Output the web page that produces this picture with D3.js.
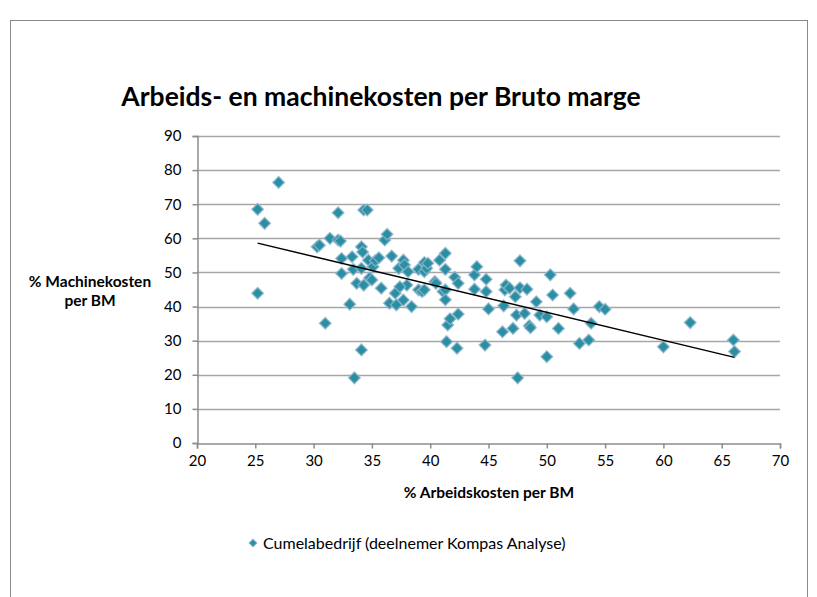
<!DOCTYPE html>
<html>
<head>
	<meta charset="utf-8" />
	<title>Arbeids- en machinekosten per Bruto marge</title>
	<script src="https://cdn.jsdelivr.net/npm/d3@7"></script>
	<style>
		body { margin: 0; background: #fff; }
		text { font-family: Lato, "Open Sans", sans-serif; fill: #000; }
	</style>
</head>
<body>

<script>
// % Arbeidskosten per BM
var arbeid = [
	25.2, 25.8, 27.0, 25.2,
	30.3, 30.5, 31.0, 31.4, 32.1, 32.3, 32.1, 32.4, 32.4, 33.1, 33.3, 33.4, 33.5, 33.7,
	34.1, 34.2, 34.1, 34.1, 34.3, 34.3, 34.6, 34.7, 34.8, 35.0, 35.1, 35.3, 35.6,
	35.8, 36.1, 36.3, 36.5, 36.7, 37.0, 37.1,
	37.3, 37.7, 37.7, 37.8, 38.0, 38.1, 38.4, 39.0, 39.0, 39.3, 39.5, 39.5, 39.5, 39.7, 39.8, 40.4, 40.5, 37.4,
	40.8, 41.1, 41.3, 41.3, 41.3, 41.3, 41.4, 41.5, 41.7, 42.1, 42.3, 42.4, 42.4, 43.8, 43.8, 44.0,
	44.7, 44.8, 44.8, 45.0, 46.2, 46.3, 46.4, 46.5, 46.8, 47.1, 47.3, 47.4, 47.5, 47.7, 47.7, 48.1, 48.3, 48.5, 48.6,
	49.1, 49.4, 50.0, 50.0, 50.3, 50.5, 51.0, 52.0, 52.3, 52.8, 53.6, 53.8, 54.5, 55.0,
	60.0, 62.3, 66.0, 66.1
];
// % Machinekosten per BM
var machine = [
	68.5, 64.4, 76.4, 43.9,
	57.5, 58.0, 35.1, 60.0, 59.5, 59.2, 67.5, 54.1, 49.7, 40.7, 54.6, 50.9, 19.1, 46.8,
	57.5, 56.0, 51.2, 27.3, 46.3, 68.3, 68.3, 53.6, 48.4, 47.8, 51.7, 53.5, 54.3,
	45.4, 59.5, 61.2, 41.0, 54.8, 43.9, 40.5,
	51.2, 53.6, 41.9, 52.2, 46.3, 50.2, 40.0, 50.9, 44.9, 44.4, 52.9, 50.2, 44.9, 51.2, 52.7, 47.3, 46.8, 45.8,
	53.6, 44.4, 55.6, 50.9, 44.9, 42.0, 29.7, 34.6, 36.4, 48.6, 27.8, 46.8, 37.8, 49.3, 45.1, 51.7,
	28.7, 48.0, 44.4, 39.3, 32.6, 40.2, 44.9, 46.3, 45.4, 33.6, 42.9, 37.5, 19.1, 45.5, 53.4, 38.0, 45.1, 34.4, 33.8,
	41.4, 37.5, 37.0, 25.3, 49.3, 43.4, 33.6, 43.9, 39.3, 29.2, 30.2, 35.1, 40.0, 39.2,
	28.2, 35.3, 30.2, 26.8
];
// lineaire trendlijn (begin- en eindpunt)
var trendX = [25.2, 66.1];
var trendY = [58.6, 25.1];

var xTicks = [20, 25, 30, 35, 40, 45, 50, 55, 60, 65, 70];
var yTicks = [0, 10, 20, 30, 40, 50, 60, 70, 80, 90];

var title = "Arbeids- en machinekosten per Bruto marge";
var xTitle = "% Arbeidskosten per BM";
var yTitle = ["% Machinekosten", "per BM"];
var legendLabel = "Cumelabedrijf (deelnemer Kompas Analyse)";

var width = 817, height = 597;
var plotL = 197, plotR = 780, plotT = 136, plotB = 443;

var svg = d3.select("body").append("svg")
	.attr("width", width)
	.attr("height", height);

// kader
svg.append("rect")
	.attr("x", 10.5).attr("y", 20.5)
	.attr("width", 797).attr("height", 600)
	.attr("fill", "none")
	.attr("stroke", "#898989")
	.attr("stroke-width", 1);

var x = d3.scaleLinear().domain([20, 70]).range([plotL, plotR]);
var y = d3.scaleLinear().domain([0, 90]).range([plotB, plotT]);

// rasterlijnen
svg.append("g")
	.selectAll("line")
	.data(yTicks.slice(1))
	.enter()
	.append("line")
	.attr("x1", plotL).attr("x2", plotR)
	.attr("y1", function(d){ return Math.round(y(d)) + 0.5; })
	.attr("y2", function(d){ return Math.round(y(d)) + 0.5; })
	.attr("stroke", "#a6a6a6")
	.attr("stroke-width", 1.5);

var xAxis = svg.append("g")
	.attr("transform", "translate(0," + (plotB + 0.5) + ")")
	.call(d3.axisBottom(x).tickValues(xTicks).tickSize(5).tickPadding(7).tickFormat(d3.format("d")));

var yAxis = svg.append("g")
	.attr("transform", "translate(" + (plotL + 0.5) + ",0)")
	.call(d3.axisLeft(y).tickValues(yTicks).tickSize(5).tickPadding(11).tickFormat(d3.format("d")));

[xAxis, yAxis].forEach(function(a){
	a.select(".domain").attr("stroke", "#8c8c8c").attr("stroke-width", 1.5);
	a.selectAll(".tick line").attr("stroke", "#8c8c8c").attr("stroke-width", 1.5);
	a.selectAll("text")
		.style("font-family", "Lato, 'Open Sans', sans-serif")
		.style("font-size", "15px")
		.attr("fill", "#000");
});
xAxis.selectAll("text").attr("dy", "0.71em");

// punten
var points = arbeid.map(function(v, i){ return { x: v, y: machine[i] }; });
var diamond = d3.symbol().type(d3.symbolSquare).size(68);

svg.append("g")
	.selectAll("path")
	.data(points)
	.enter()
	.append("path")
	.attr("d", diamond)
	.attr("transform", function(d){ return "translate(" + x(d.x) + "," + y(d.y) + ") rotate(45)"; })
	.attr("fill", "#2b8fa3")
	.attr("stroke", "#8cb5cc")
	.attr("stroke-width", 1.4)
	.attr("stroke-opacity", 0.8);

// trendlijn
svg.append("line")
	.attr("x1", x(trendX[0])).attr("y1", y(trendY[0]))
	.attr("x2", x(trendX[1])).attr("y2", y(trendY[1]))
	.attr("stroke", "#000")
	.attr("stroke-width", 1.5);

// titels
svg.append("text")
	.attr("x", 381).attr("y", 106)
	.attr("text-anchor", "middle")
	.style("font-size", "26.5px")
	.style("font-weight", "bold")
	.text(title);

svg.append("text")
	.attr("x", 489).attr("y", 498)
	.attr("text-anchor", "middle")
	.style("font-size", "15.5px")
	.style("font-weight", "bold")
	.text(xTitle);

svg.append("text")
	.attr("x", 90).attr("y", 287)
	.attr("text-anchor", "middle")
	.style("font-size", "15.5px")
	.style("font-weight", "bold")
	.selectAll("tspan")
	.data(yTitle)
	.enter()
	.append("tspan")
	.attr("x", 90)
	.attr("dy", function(d, i){ return i === 0 ? 0 : 19; })
	.text(function(d){ return d; });

// legenda
svg.append("path")
	.attr("d", d3.symbol().type(d3.symbolSquare).size(30))
	.attr("transform", "translate(253,543) rotate(45)")
	.attr("fill", "#2b8fa3")
	.attr("stroke", "#8cb5cc")
	.attr("stroke-width", 1);

svg.append("text")
	.attr("x", 263).attr("y", 549)
	.style("font-size", "16px")
	.text(legendLabel);
</script>
</body>
</html>
